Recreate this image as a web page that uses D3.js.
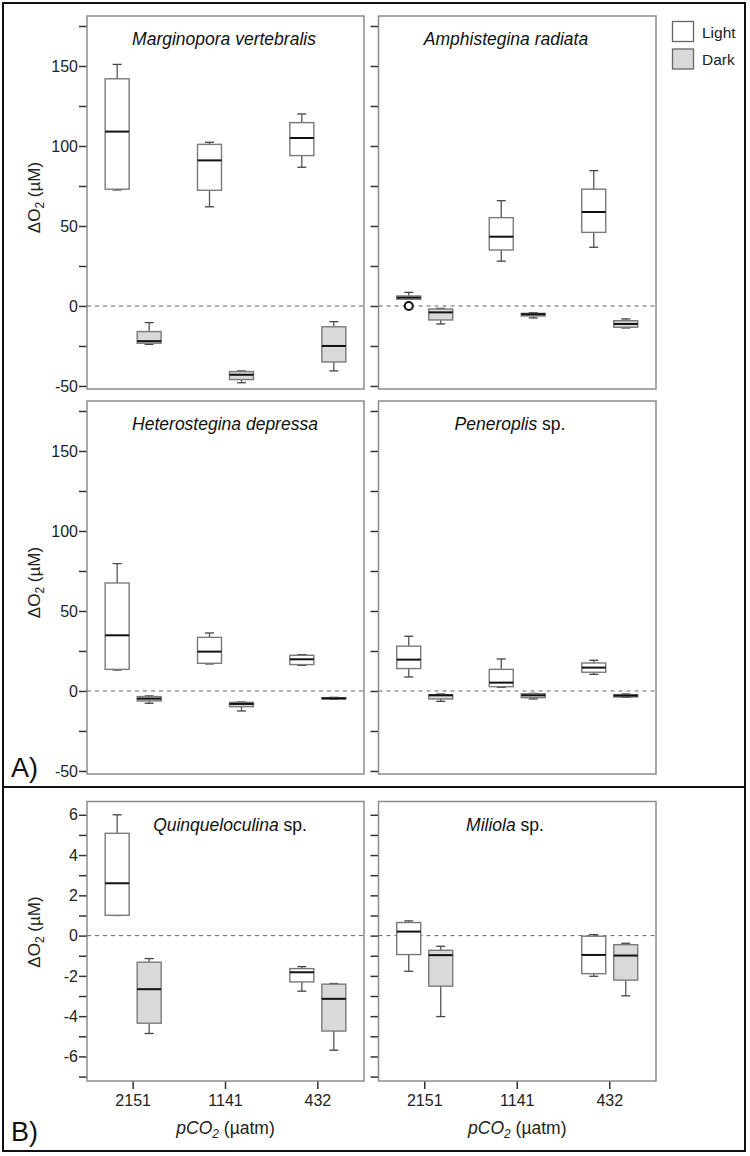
<!DOCTYPE html>
<html><head><meta charset="utf-8">
<script src="https://cdn.jsdelivr.net/npm/d3@7"></script>
<style>body{margin:0;background:#fff}svg{display:block;font-family:"Liberation Sans",Arial,sans-serif}</style>
</head><body><svg id="c" width="750" height="1156"></svg>
<script>
// ---------- DATA ----------
const categories = ["2151", "1141", "432"];
const treatments = ["Light", "Dark"];
// each entry: [min, q1, median, q3, max] per pCO2 category (null = no data)
const marginoporaLight = [[72.5, 73, 109, 142, 151], [62, 72.3, 91, 101, 102.3], [86.7, 94, 105, 114.6, 120]];
const marginoporaDark  = [[-24, -23.3, -22, -16, -10.4], [-48, -46, -43, -41, -40.6], [-40.6, -35, -25, -13, -9.8]];
const amphisteginaLight = [[4.2, 4.2, 5.2, 6.25, 8.5], [28, 35, 43.3, 55.2, 65.8], [36.7, 46, 58.75, 73, 84.6]];
const amphisteginaDark  = [[-11.25, -8.75, -4, -1.9, -1.5], [-7.5, -6.25, -5.2, -4.6, -4.2], [-13.75, -13.3, -11.25, -9.2, -8.1]];
const amphisteginaOutliers = [{cat: "2151", treatment: "Light", value: 0}];
const heterosteginaLight = [[13.1, 13.5, 34.8, 67.5, 79.6], [16.9, 17.3, 24.6, 33.5, 36.25], [16, 16.5, 19.8, 22.3, 22.7]];
const heterosteginaDark  = [[-7.7, -6.25, -4.8, -3.5, -3.1], [-12.5, -9.8, -8.1, -7.1, -6.9], [-5.2, -5, -4.6, -4.2, -4]];
const peneroplisLight = [[8.75, 14, 19.6, 28, 34.2], [2.3, 2.7, 5.2, 13.5, 20], [10.4, 11.7, 14.6, 17.5, 19.2]];
const peneroplisDark  = [[-6.5, -5, -2.7, -2.3, -1.9], [-5, -4.2, -2.7, -1.7, -1.5], [-4, -3.75, -2.9, -2.3, -1.9]];
const quinqueloculinaLight = [[1.0, 1.01, 2.6, 5.08, 6.0], null, [-2.76, -2.3, -1.82, -1.64, -1.54]];
const quinqueloculinaDark  = [[-4.86, -4.35, -2.66, -1.32, -1.14], null, [-5.69, -4.74, -3.14, -2.41, -2.38]];
const miliolaLight = [[-1.77, -0.94, 0.2, 0.65, 0.73], null, [-2.02, -1.89, -0.96, -0.03, 0.05]];
const miliolaDark  = [[-4.02, -2.51, -0.97, -0.73, -0.53], null, [-2.99, -2.21, -0.99, -0.45, -0.38]];
const ticksA = [-50, -25, 0, 25, 50, 75, 100, 125, 150, 175];
const tickLabelsA = [-50, 0, 50, 100, 150];
const ticksB = [-7, -6, -5, -4, -3, -2, -1, 0, 1, 2, 3, 4, 5, 6];
const tickLabelsB = [-6, -4, -2, 0, 2, 4, 6];

// ---------- LAYOUT ----------
const svg = d3.select("#c");
const cols = [{x0: 87, x1: 364}, {x0: 378.5, x1: 656}];
const panels = [
  {name: ["Marginopora vertebralis", ""], light: marginoporaLight, dark: marginoporaDark, col: 0, y0: 16, y1: 389, grp: "A", tx: 224},
  {name: ["Amphistegina radiata", ""], light: amphisteginaLight, dark: amphisteginaDark, outliers: amphisteginaOutliers, col: 1, y0: 16, y1: 389, grp: "A", tx: 506},
  {name: ["Heterostegina depressa", ""], light: heterosteginaLight, dark: heterosteginaDark, col: 0, y0: 401, y1: 774, grp: "A", tx: 225},
  {name: ["Peneroplis", " sp."], light: peneroplisLight, dark: peneroplisDark, col: 1, y0: 401, y1: 774, grp: "A", tx: 510},
  {name: ["Quinqueloculina", " sp."], light: quinqueloculinaLight, dark: quinqueloculinaDark, col: 0, y0: 801.5, y1: 1081, grp: "B", tx: 230},
  {name: ["Miliola", " sp."], light: miliolaLight, dark: miliolaDark, col: 1, y0: 801.5, y1: 1081, grp: "B", tx: 505}
];
const fills = {Light: "#ffffff", Dark: "#d9d9d9"};
const offsets = {Light: -16, Dark: 16};
const boxW = 24, capW = 9;

// frames
svg.append("rect").attr("x", 3).attr("y", 3).attr("width", 742).attr("height", 1148)
  .attr("fill", "none").attr("stroke", "#111").attr("stroke-width", 2);
svg.append("line").attr("x1", 3).attr("x2", 745).attr("y1", 787).attr("y2", 787)
  .attr("stroke", "#111").attr("stroke-width", 2);

panels.forEach(p => {
  const c = cols[p.col];
  const x = d3.scaleBand().domain(categories).range([c.x0, c.x1]);
  const y = p.grp === "A"
    ? d3.scaleLinear().domain([-51.9, 181.25]).range([p.y1, p.y0])
    : d3.scaleLinear().domain([-7.22, 6.66]).range([p.y1, p.y0]);
  const ticks = p.grp === "A" ? ticksA : ticksB;
  const labels = p.grp === "A" ? tickLabelsA : tickLabelsB;
  const g = svg.append("g");

  // y axis
  const ax = d3.axisLeft(y).tickValues(ticks).tickSize(8).tickSizeOuter(0)
    .tickFormat(d => (p.col === 0 && labels.includes(d)) ? String(d) : "");
  const ag = g.append("g").attr("transform", `translate(${c.x0},0)`).call(ax);
  ag.select(".domain").remove();
  ag.selectAll(".tick line").attr("stroke", "#333").attr("stroke-width", 1.5);
  ag.selectAll(".tick text").attr("font-size", 16).attr("fill", "#222").attr("x", -9);

  // x axis for bottom row
  if (p.grp === "B") {
    const xa = d3.axisBottom(x).tickSize(8).tickSizeOuter(0);
    const xg = g.append("g").attr("transform", `translate(0,${p.y1})`).call(xa);
    xg.select(".domain").remove();
    xg.selectAll(".tick line").attr("stroke", "#333").attr("stroke-width", 1.5);
    xg.selectAll(".tick text").attr("font-size", 16).attr("fill", "#222").attr("y", 14);
    const t = g.append("text").attr("x", (c.x0 + c.x1) / 2).attr("y", 1134)
      .attr("text-anchor", "middle").attr("font-size", 17.5).attr("fill", "#222");
    t.append("tspan").attr("font-style", "italic").text("pCO");
    t.append("tspan").attr("font-style", "italic").attr("font-size", 12).attr("dy", 4).text("2");
    t.append("tspan").attr("dy", -4).text(" (µatm)");
  }

  // panel border
  g.append("rect").attr("x", c.x0).attr("y", p.y0).attr("width", c.x1 - c.x0).attr("height", p.y1 - p.y0)
    .attr("fill", "none").attr("stroke", "#8c8c8c").attr("stroke-width", 1.5);

  // zero line
  g.append("line").attr("x1", c.x0).attr("x2", c.x1).attr("y1", y(0)).attr("y2", y(0))
    .attr("stroke", "#666").attr("stroke-width", 1).attr("stroke-dasharray", "4,4");

  // boxes
  treatments.forEach(tr => {
    const arr = tr === "Light" ? p.light : p.dark;
    arr.forEach((s, i) => {
      if (!s) return;
      const cx = x(categories[i]) + x.bandwidth() / 2 + offsets[tr];
      const [mn, q1, md, q3, mx] = s;
      const bg = g.append("g");
      bg.append("line").attr("x1", cx).attr("x2", cx).attr("y1", y(q3)).attr("y2", y(mx)).attr("stroke", "#555").attr("stroke-width", 1.3);
      bg.append("line").attr("x1", cx).attr("x2", cx).attr("y1", y(q1)).attr("y2", y(mn)).attr("stroke", "#555").attr("stroke-width", 1.3);
      bg.append("line").attr("x1", cx - capW / 2).attr("x2", cx + capW / 2).attr("y1", y(mx)).attr("y2", y(mx)).attr("stroke", "#444").attr("stroke-width", 1.3);
      bg.append("line").attr("x1", cx - capW / 2).attr("x2", cx + capW / 2).attr("y1", y(mn)).attr("y2", y(mn)).attr("stroke", "#444").attr("stroke-width", 1.3);
      bg.append("rect").attr("x", cx - boxW / 2).attr("y", y(q3)).attr("width", boxW).attr("height", Math.max(0.5, y(q1) - y(q3)))
        .attr("fill", fills[tr]).attr("stroke", "#7a7a7a").attr("stroke-width", 1.4);
      bg.append("line").attr("x1", cx - boxW / 2).attr("x2", cx + boxW / 2).attr("y1", y(md)).attr("y2", y(md)).attr("stroke", "#111").attr("stroke-width", 2);
    });
  });
  (p.outliers || []).forEach(o => {
    const cx = x(o.cat) + x.bandwidth() / 2 + offsets[o.treatment];
    g.append("circle").attr("cx", cx).attr("cy", y(o.value)).attr("r", 4)
      .attr("fill", "#fff").attr("stroke", "#111").attr("stroke-width", 2);
  });

  // title
  const tt = g.append("text").attr("x", p.tx).attr("y", p.y0 + 29).attr("text-anchor", "middle")
    .attr("font-size", 17.5).attr("fill", "#111");
  tt.append("tspan").attr("font-style", "italic").text(p.name[0]);
  if (p.name[1]) tt.append("tspan").text(p.name[1]);

  // y title
  if (p.col === 0) {
    const cy = p.grp === "A" ? (p.y0 + p.y1) / 2 - 5 : 932;
    const yt = g.append("text").attr("transform", `translate(40,${cy}) rotate(-90)`)
      .attr("text-anchor", "middle").attr("font-size", 17).attr("fill", "#222");
    yt.append("tspan").text("ΔO");
    yt.append("tspan").attr("font-size", 12).attr("dy", 4).text("2");
    yt.append("tspan").attr("dy", -4).text(" (µM)");
  }
});

// legend
const lg = svg.append("g");
treatments.forEach((tr, i) => {
  lg.append("rect").attr("x", 672.5).attr("y", 21.5 + i * 27.5).attr("width", 21).attr("height", 20)
    .attr("fill", fills[tr]).attr("stroke", "#666").attr("stroke-width", 1.3);
  lg.append("text").attr("x", 702).attr("y", 37.5 + i * 27.5).attr("font-size", 15.5).attr("fill", "#222").text(tr);
});

// group labels
svg.append("text").attr("x", 11).attr("y", 777).attr("font-size", 27).attr("fill", "#111").text("A)");
svg.append("text").attr("x", 11).attr("y", 1141).attr("font-size", 27).attr("fill", "#111").text("B)");
</script>
</body></html>
